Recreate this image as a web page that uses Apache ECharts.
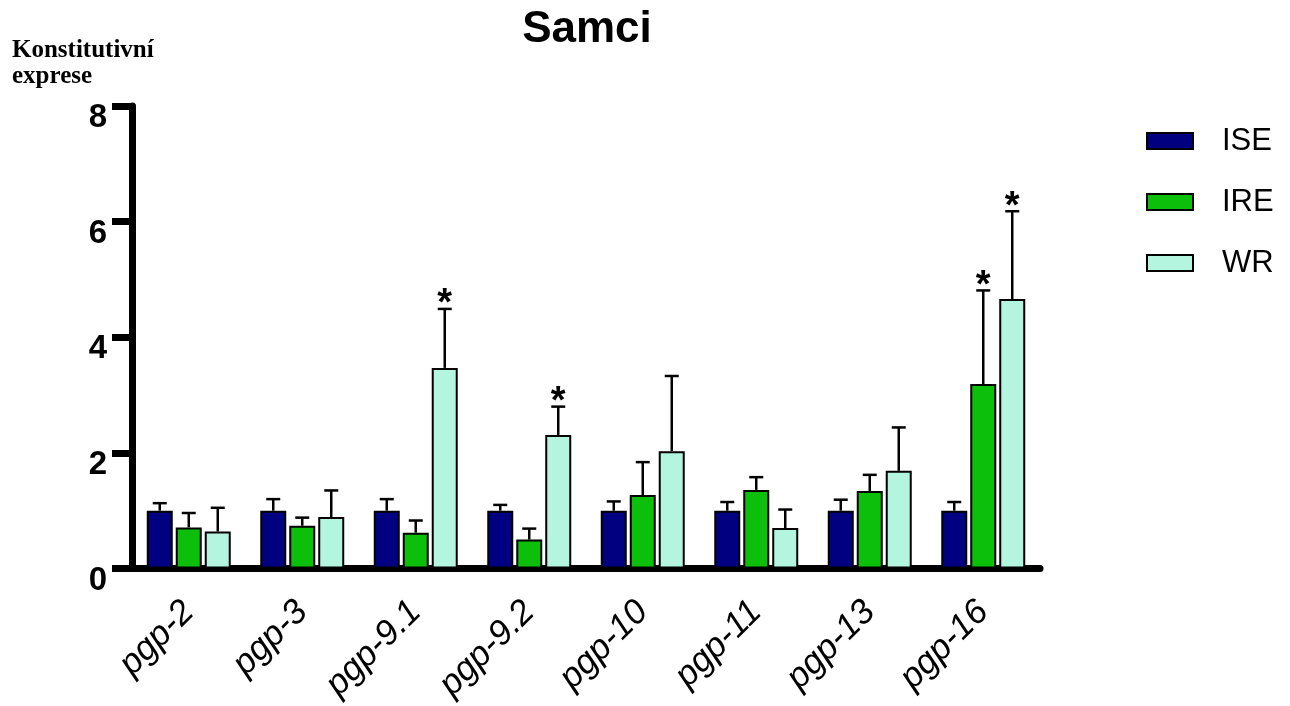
<!DOCTYPE html>
<html>
<head>
<meta charset="utf-8">
<script src="https://cdn.jsdelivr.net/npm/echarts@6/dist/echarts.min.js"></script>
<style>
html,body{margin:0;padding:0;background:#fff;}
#chart{width:1290px;height:706px;}
</style>
</head>
<body>
<div id="chart"></div>
<script>
const categories = ['pgp-2','pgp-3','pgp-9.1','pgp-9.2','pgp-10','pgp-11','pgp-13','pgp-16'];
const yTicks = [0, 2, 4, 6, 8];
const iseMean  = [1.00, 1.00, 1.00, 1.00, 1.00, 1.00, 1.00, 1.00];
const iseUpper = [1.13, 1.20, 1.20, 1.10, 1.16, 1.15, 1.19, 1.15];
const ireMean  = [0.71, 0.74, 0.62, 0.50, 1.27, 1.36, 1.34, 3.19];
const ireUpper = [0.96, 0.88, 0.83, 0.69, 1.84, 1.58, 1.62, 4.81];
const wrMean   = [0.64, 0.89, 3.47, 2.31, 2.03, 0.70, 1.69, 4.66];
const wrUpper  = [1.05, 1.35, 4.49, 2.80, 3.33, 1.02, 2.44, 6.18];
const iseSig   = [0, 0, 0, 0, 0, 0, 0, 0];
const ireSig   = [0, 0, 0, 0, 0, 0, 0, 1];
const wrSig    = [0, 0, 1, 1, 0, 0, 0, 1];

const BAR_W = 26;
const BAR_STEP = 29;

function barSeries(name, data, color) {
  return {
    type: 'bar', name: name, data: data,
    barWidth: BAR_W, barGap: '11.5%',
    itemStyle: { color: color, borderColor: '#000', borderWidth: 2 },
    z: 2, silent: true
  };
}

function errSeries(mean, upper, sig, offset) {
  return {
    type: 'custom',
    name: 'err' + offset,
    silent: true,
    z: 5,
    encode: { x: 0, y: [1, 2] },
    data: mean.map((m, i) => [i, m, upper[i], sig[i]]),
    renderItem: function (params, api) {
      const i = api.value(0);
      const p0 = api.coord([i, api.value(1)]);
      const p1 = api.coord([i, api.value(2)]);
      const x = p0[0] + offset;
      const children = [
        { type: 'line', shape: { x1: x, y1: p0[1], x2: x, y2: p1[1] }, style: { stroke: '#000', lineWidth: 2.5 } },
        { type: 'line', shape: { x1: x - 7, y1: p1[1], x2: x + 7, y2: p1[1] }, style: { stroke: '#000', lineWidth: 2.5 } }
      ];
      if (api.value(3)) {
        children.push({
          type: 'text',
          style: { text: '*', x: x, y: p1[1] - 4, font: 'bold 38px "Liberation Sans", Arial, sans-serif',
                   textAlign: 'center', textVerticalAlign: 'middle', fill: '#000' }
        });
      }
      return { type: 'group', children: children };
    }
  };
}

const chart = echarts.init(document.getElementById('chart'));
chart.setOption({
  animation: false,
  backgroundColor: '#fff',
  grid: { left: 132, right: 250, top: 106, bottom: 137.5, containLabel: false },
  graphic: [
    { type: 'text', style: {
        text: 'Samci', x: 587, y: 30, font: 'bold 44px "Liberation Sans", Arial, sans-serif',
        textAlign: 'center', textVerticalAlign: 'middle', fill: '#000' } },
    { type: 'text', style: {
        text: 'Konstitutivní\nexprese', x: 12, y: 38, lineHeight: 26,
        font: 'bold 25px "Liberation Serif", "Times New Roman", serif', fill: '#000' } }
  ],
  legend: {
    orient: 'vertical', left: 1146, top: 125, padding: 0,
    data: ['ISE', 'IRE', 'WR'],
    icon: 'rect', itemWidth: 46, itemHeight: 16, itemGap: 29,
    itemStyle: { borderColor: '#000', borderWidth: 2 },
    textStyle: { fontSize: 31, color: '#000', fontFamily: '"Liberation Sans", Arial, sans-serif',
                 padding: [0, 0, 0, 24], lineHeight: 32 },
    selectedMode: false
  },
  xAxis: {
    type: 'category', data: categories,
    axisLine: { lineStyle: { color: '#000', width: 7 } },
    axisTick: { alignWithLabel: true, length: 20, lineStyle: { color: '#000', width: 7 } },
    axisLabel: { rotate: 45, margin: 38, fontSize: 35, fontStyle: 'italic', color: '#000',
                 fontFamily: '"Liberation Sans", Arial, sans-serif', interval: 0 },
    splitLine: { show: false }
  },
  yAxis: {
    type: 'value', min: yTicks[0], max: yTicks[yTicks.length - 1], interval: 2,
    axisLine: { show: true, lineStyle: { color: '#000', width: 7 } },
    axisTick: { show: true, length: 20, lineStyle: { color: '#000', width: 7 } },
    axisLabel: { fontSize: 33, fontWeight: 'bold', color: '#000', margin: 25,
                 fontFamily: '"Liberation Sans", Arial, sans-serif', verticalAlign: 'top', lineHeight: 24 },
    splitLine: { show: false }
  },
  series: [
    barSeries('ISE', iseMean, '#000080'),
    barSeries('IRE', ireMean, '#0bbf0b'),
    barSeries('WR', wrMean, '#b4f5df'),
    errSeries(iseMean, iseUpper, iseSig, -BAR_STEP),
    errSeries(ireMean, ireUpper, ireSig, 0),
    errSeries(wrMean, wrUpper, wrSig, BAR_STEP)
  ]
});
</script>
</body>
</html>
